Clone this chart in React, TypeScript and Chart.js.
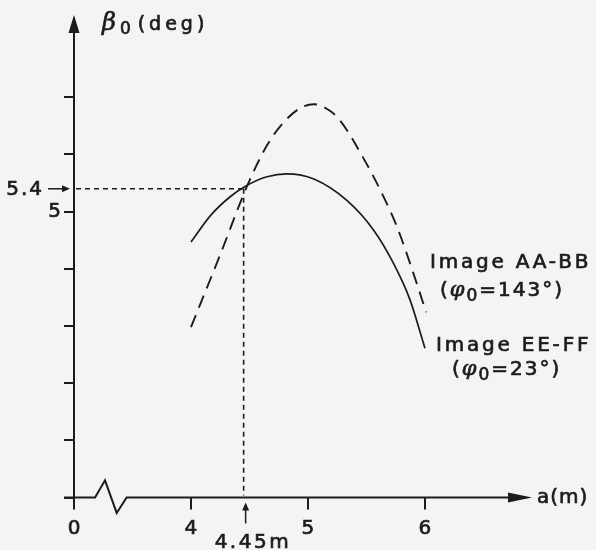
import React, { useEffect, useRef } from "react";
import { Chart, registerables } from "chart.js";

Chart.register(...registerables);

// ---- data ----
const xTickValues = [3, 4, 5, 6];
const xTickLabels = ["0", "4", "5", "6"];
const yTickValues = [0, 1, 2, 3, 4, 5, 6, 7];
const yTickLabels = ["", "", "", "", "", "5", "", ""];

const aAA = [4.0, 4.25, 4.48, 4.65, 4.8, 4.95, 5.05, 5.19, 5.28, 5.47, 5.62, 5.76, 5.9, 6.01];
const betaAA = [2.98, 4.25, 5.45, 6.16, 6.58, 6.83, 6.88, 6.76, 6.58, 5.95, 5.37, 4.74, 3.93, 3.24];

const aEE = [4.0, 4.17, 4.34, 4.47, 4.65, 4.82, 5.05, 5.33, 5.56, 5.73, 5.87, 6.0];
const betaEE = [4.47, 4.94, 5.27, 5.45, 5.61, 5.66, 5.57, 5.2, 4.68, 4.1, 3.47, 2.61];

const markA = 4.45;
const markBeta = 5.4;
const markALabel = "4.45m";
const markBetaLabel = "5.4";

const seriesNames = ["Image AA-BB", "Image EE-FF"];
const seriesPhi = ["143°", "23°"];

// ---- style ----
const INK = "#1c1c1c";
const BG = "#f4f5f2";
const FONT = "'DejaVu Sans'";
const X_MIN = 3;
const X_MAX = 6.915;
const Y_MAX = 8.44;
const BOLDEN = 0.7;
// axis break zigzag (axis units)
const breakPts: [number, number][] = [
  [3.18, 0],
  [3.265, 0.3],
  [3.365, -0.27],
  [3.45, 0],
];
// series label anchors (axis units) + second line offsets (px)
const labelAnchors = [
  { a: 6.043, b: 4.02, dx2: 10, dy2: 28 },
  { a: 6.094, b: 2.556, dx2: 16, dy2: 24 },
];

function arrowHead(ctx: CanvasRenderingContext2D, tx: number, ty: number, dx: number, dy: number, len: number, hw: number) {
  const px = -dy;
  const py = dx;
  ctx.beginPath();
  ctx.moveTo(tx, ty);
  ctx.lineTo(tx - dx * len + px * hw, ty - dy * len + py * hw);
  ctx.lineTo(tx - dx * len - px * hw, ty - dy * len - py * hw);
  ctx.closePath();
  ctx.fill();
}

function text(ctx: CanvasRenderingContext2D, t: string, x: number, y: number) {
  ctx.fillText(t, x, y);
  ctx.lineWidth = BOLDEN;
  ctx.strokeText(t, x, y);
}

type Part = { t: string; font: string; dy?: number; dx?: number };
function rich(ctx: CanvasRenderingContext2D, parts: Part[], x: number, y: number, spacing: number) {
  (ctx as any).letterSpacing = spacing + "px";
  ctx.textBaseline = "alphabetic";
  ctx.textAlign = "left";
  let cx = x;
  for (const p of parts) {
    ctx.font = p.font;
    cx += p.dx || 0;
    text(ctx, p.t, cx, y + (p.dy || 0));
    cx += ctx.measureText(p.t).width;
  }
}

const figurePlugin = {
  id: "figure",
  beforeDraw(chart: any) {
    const ctx = chart.ctx as CanvasRenderingContext2D;
    ctx.save();
    ctx.fillStyle = BG;
    ctx.fillRect(0, 0, chart.width, chart.height);
    ctx.restore();
  },
  afterDraw(chart: any) {
    const ctx = chart.ctx as CanvasRenderingContext2D;
    const area = chart.chartArea;
    const xs = chart.scales.x;
    const ys = chart.scales.y;
    const X = (v: number) => xs.getPixelForValue(v);
    const Y = (v: number) => ys.getPixelForValue(v);
    const x0 = area.left;
    const y0 = Y(0);

    ctx.save();
    ctx.strokeStyle = INK;
    ctx.fillStyle = INK;
    ctx.lineWidth = 2;
    ctx.lineJoin = "miter";

    // y axis with arrow
    ctx.beginPath();
    ctx.moveTo(x0, y0);
    ctx.lineTo(x0, area.top + 12);
    ctx.stroke();
    arrowHead(ctx, x0, area.top, 0, -1, 18, 5.5);

    // x axis with break and arrow
    ctx.beginPath();
    ctx.moveTo(x0 - 10, y0);
    breakPts.forEach(([a, b]) => ctx.lineTo(X(a), Y(b)));
    ctx.lineTo(area.right - 12, y0);
    ctx.stroke();
    arrowHead(ctx, area.right, y0, 1, 0, 24, 5);

    // dotted guides
    const mx = X(markA);
    const my = Y(markBeta);
    ctx.lineWidth = 1.6;
    ctx.setLineDash([5, 4]);
    ctx.beginPath();
    ctx.moveTo(x0 + 2, my);
    ctx.lineTo(mx, my);
    ctx.moveTo(mx, my);
    ctx.lineTo(mx, y0 - 2);
    ctx.stroke();
    ctx.setLineDash([]);

    // 5.4 label with arrow
    ctx.font = `20px ${FONT}`;
    (ctx as any).letterSpacing = "2px";
    ctx.textAlign = "right";
    ctx.textBaseline = "middle";
    text(ctx, markBetaLabel, x0 - 30, my + 1);
    ctx.lineWidth = 1.5;
    ctx.beginPath();
    ctx.moveTo(x0 - 26, my);
    ctx.lineTo(x0 - 10, my);
    ctx.stroke();
    arrowHead(ctx, x0 - 4, my, 1, 0, 8, 3.5);

    // 4.45m label with up arrow
    ctx.lineWidth = 1.5;
    ctx.beginPath();
    ctx.moveTo(mx + 2, y0 + 26);
    ctx.lineTo(mx + 2, y0 + 12);
    ctx.stroke();
    arrowHead(ctx, mx + 2, y0 + 5, 0, -1, 8, 3.5);
    rich(ctx, [{ t: markALabel, font: `20px ${FONT}` }], mx - 29, y0 + 50, 2.5);

    // series labels
    labelAnchors.forEach((an, i) => {
      const lx = X(an.a);
      const ly = Y(an.b);
      rich(ctx, [{ t: seriesNames[i], font: `20px ${FONT}` }], lx, ly, 2.8);
      rich(
        ctx,
        [
          { t: "(", font: `20px ${FONT}` },
          { t: "φ", font: `italic 21px 'DejaVu Serif'` },
          { t: "0", font: `17px ${FONT}`, dy: 5 },
          { t: "=" + seriesPhi[i] + ")", font: `20px ${FONT}` },
        ],
        lx + an.dx2,
        ly + an.dy2,
        2
      );
    });

    // axis titles
    rich(
      ctx,
      [
        { t: "β", font: `italic 24px 'DejaVu Serif'` },
        { t: "0", font: `17px ${FONT}`, dy: 4 },
        { t: "(deg)", font: `19px ${FONT}`, dx: 3 },
      ],
      x0 + 28,
      30,
      4
    );
    rich(ctx, [{ t: "a(m)", font: `20px ${FONT}` }], area.right + 5, y0 + 5, 1);

    ctx.restore();
  },
};

export default function App() {
  const ref = useRef<HTMLCanvasElement | null>(null);
  useEffect(() => {
    document.body.style.margin = "0";
    document.body.style.overflow = "hidden";
    const canvas = ref.current;
    if (!canvas) return;
    Chart.defaults.font.family = "DejaVu Sans";
    const tickFont = { family: "DejaVu Sans", size: 20 };
    const chart = new Chart(canvas, {
      type: "line",
      data: {
        datasets: [
          {
            label: seriesNames[0],
            data: aAA.map((a, i) => ({ x: a, y: betaAA[i] })),
            borderColor: INK,
            borderWidth: 1.9,
            borderDash: [13, 8],
            pointRadius: 0,
            cubicInterpolationMode: "monotone",
            fill: false,
          },
          {
            label: seriesNames[1],
            data: aEE.map((a, i) => ({ x: a, y: betaEE[i] })),
            borderColor: INK,
            borderWidth: 1.7,
            pointRadius: 0,
            cubicInterpolationMode: "monotone",
            fill: false,
          },
        ],
      },
      options: {
        animation: false,
        responsive: false,
        devicePixelRatio: 1,
        layout: { padding: { top: 7, right: 64, left: 0, bottom: 0 } },
        plugins: { legend: { display: false }, tooltip: { enabled: false } },
        scales: {
          x: {
            type: "linear",
            min: X_MIN,
            max: X_MAX,
            afterBuildTicks: (s: any) => {
              s.ticks = xTickValues.map((v) => ({ value: v }));
            },
            afterFit: (s: any) => {
              s.height = 52.5;
            },
            border: { display: false },
            grid: { drawOnChartArea: false, drawTicks: true, tickLength: 12, color: INK, lineWidth: 2 },
            ticks: {
              autoSkip: false,
              maxRotation: 0,
              padding: 7,
              color: INK,
              textStrokeColor: INK,
              textStrokeWidth: BOLDEN,
              font: tickFont,
              callback: (v: any) => {
                const i = xTickValues.indexOf(Number(v));
                return i >= 0 ? xTickLabels[i] : "";
              },
            },
          },
          y: {
            type: "linear",
            min: 0,
            max: Y_MAX,
            afterBuildTicks: (s: any) => {
              s.ticks = yTickValues.map((v) => ({ value: v }));
            },
            afterFit: (s: any) => {
              s.width = 74;
            },
            border: { display: false },
            grid: { drawOnChartArea: false, drawTicks: true, tickLength: 10, color: INK, lineWidth: 2 },
            ticks: {
              autoSkip: false,
              padding: 3,
              color: INK,
              textStrokeColor: INK,
              textStrokeWidth: BOLDEN,
              font: tickFont,
              callback: (v: any) => {
                const i = yTickValues.indexOf(Number(v));
                return i >= 0 ? yTickLabels[i] : "";
              },
            },
          },
        },
      },
      plugins: [figurePlugin],
    } as any);
    return () => chart.destroy();
  }, []);
  return (
    <div style={{ width: 596, height: 550 }}>
      <canvas ref={ref} width={596} height={550} style={{ display: "block" }} />
    </div>
  );
}
